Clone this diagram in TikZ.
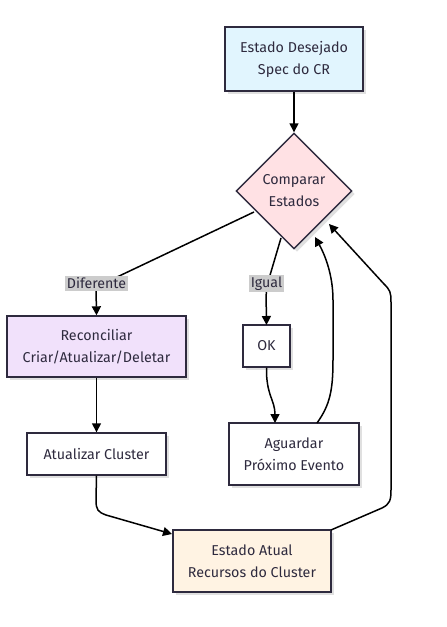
\documentclass[tikz,border=0pt]{standalone}
\usepackage{fontspec}
\setmainfont{Fira Sans}
\usetikzlibrary{shapes.geometric,arrows.meta,shadows}
\definecolor{txt}{HTML}{2E2A3E}
\definecolor{bd}{HTML}{2E2A3E}
\definecolor{cblue}{HTML}{E1F5FE}
\definecolor{cpink}{HTML}{FFE1E4}
\definecolor{cviolet}{HTML}{F1E1FB}
\definecolor{corange}{HTML}{FFF3E3}
\definecolor{lbl}{HTML}{CCCCCC}
\tikzset{
  box/.style={draw=bd, line width=1.4pt, align=center, text=txt, font=\fontsize{14.3}{22}\selectfont,
     drop shadow={shadow xshift=3pt, shadow yshift=-3pt, fill=black, opacity=0.12}},
  elabel/.style={fill=lbl, text=txt, font=\fontsize{14.2}{15}\selectfont, inner sep=1.5pt},
  arr/.style={line width=1.5pt, -{Triangle[length=9pt,width=9pt]}},
  ln/.style={line width=1.5pt},
}
\begin{document}
\begin{tikzpicture}[x=1pt,y=-1pt]
\useasboundingbox (0,0) rectangle (447,627);
\node[box, fill=cblue, minimum width=138pt, minimum height=64pt] (des) at (294,59) {Estado Desejado\\Spec do CR};
\node[box, fill=cpink, diamond, minimum width=116pt, minimum height=116pt, inner sep=0pt] (cmp) at (294,191) {Comparar\\Estados};
\node[box, fill=cviolet, minimum width=179pt, minimum height=61pt] (rec) at (96.5,346.5) {Reconciliar\\Criar/Atualizar/Deletar};
\node[box, fill=white, minimum width=139pt, minimum height=42pt] (atu) at (96.5,454) {Atualizar Cluster};
\node[box, fill=white, minimum width=47pt, minimum height=42pt] (ok) at (266.5,346) {OK};
\node[box, fill=white, minimum width=130pt, minimum height=62pt] (agu) at (294,454) {Aguardar\\Próximo Evento};
\node[box, fill=corange, minimum width=158pt, minimum height=62pt] (ea) at (252,561) {Estado Atual\\Recursos do Cluster};

\coordinate (d1) at (254,212);
\coordinate (g1) at (281,238);

\draw[arr] (des.south) -- (cmp.north);
% Diferente
\draw[ln] (d1) -- (96,287);
\draw[arr] (96,287) -- (rec.north);
\node[elabel] (ldif) at (96.5,283.5) {Diferente};
% Igual
\draw[ln] (g1) -- (268,282);
\draw[arr] (268,282) .. controls (266,290) .. (266.5,325);
\node[elabel] (ligu) at (266.5,283.5) {Igual};
% rec -> atu
\draw[arr] (rec.south) -- (atu.north);
% ok -> agu
\draw[arr] (ok.south) .. controls (266,395) and (275,400) .. (275,423);
% agu -> cmp
\coordinate (a1) at (317,423);
\draw[arr] (a1) .. controls (330,405) and (333,390) .. (333,360) -- (333,300) .. controls (333,275) and (325,255) .. (315,237);
% ea -> cmp
\coordinate (e1) at (331,530);
\draw[arr] (e1) -- (382,508) .. controls (390,504) and (391,500) .. (391,490) -- (391,302) .. controls (391,292) and (390,290) .. (384,284) -- (329,224);
% atu -> ea
\draw[arr] (atu.south) -- (96,500) .. controls (96,510) and (98,512) .. (106,515) -- (172,534);
\end{tikzpicture}
\end{document}
